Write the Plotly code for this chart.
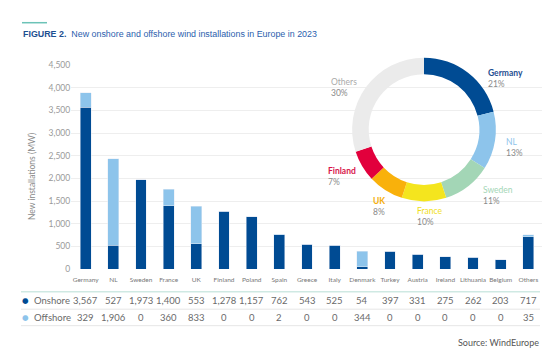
import plotly.graph_objects as go

# page body has an 8px default margin; the figure is sized so the page is 560x361
OFF = 8
W, H = 560 - 2 * OFF, 361 - 2 * OFF

categories = ["Germany", "NL", "Sweden", "France", "UK", "Finland", "Poland", "Spain",
              "Greece", "Italy", "Denmark", "Turkey", "Austria", "Ireland", "Lithuania",
              "Belgium", "Others"]
onshore = [3567, 527, 1973, 1400, 553, 1278, 1157, 762, 543, 525, 54, 397, 331, 275, 262, 203, 717]
offshore = [329, 1906, 0, 360, 833, 0, 0, 2, 0, 0, 344, 0, 0, 0, 0, 0, 35]

pie_labels = ["Germany", "NL", "Sweden", "France", "UK", "Finland", "Others"]
pie_pcts = [21, 13, 11, 10, 8, 7, 30]

y_ticks = [0, 500, 1000, 1500, 2000, 2500, 3000, 3500, 4000, 4500]

C_ON = "#004b93"
C_OFF = "#8dc4eb"
pie_colors = ["#004b93", "#8dc4eb", "#a3d6b6", "#f4e51e", "#f9b10b", "#e2003c", "#ebebeb"]
pie_text_colors = ["#1f4e91", "#8dc4eb", "#a3d6b6", "#f0de1a", "#f5ae0b", "#d8154a", "#aaaaaa"]
pie_bold = [True, False, False, False, True, True, False]

FONT = "Lato"


def px(x):
    return (x - OFF) / W


def py(y):
    return (H - (y - OFF)) / H


fig = go.Figure()
fig.add_trace(go.Bar(x=categories, y=onshore, marker_color=C_ON, name="Onshore",
                     hoverinfo="skip"))
fig.add_trace(go.Bar(x=categories, y=offshore, marker_color=C_OFF, name="Offshore",
                     hoverinfo="skip"))

fig.add_trace(go.Pie(labels=pie_labels, values=pie_pcts, sort=False, direction="clockwise",
                     rotation=0, hole=0.77, textinfo="none", hoverinfo="skip",
                     marker=dict(colors=pie_colors, line=dict(width=0)),
                     domain=dict(x=[px(350), px(498)], y=[py(202), py(54)]),
                     showlegend=False))

annotations = []
shapes = []

# title
shapes.append(dict(type="line", xref="paper", yref="paper", x0=px(22), x1=px(47),
                   y0=py(18), y1=py(18), line=dict(color="#6cc3b7", width=1.5)))
annotations.append(dict(xref="paper", yref="paper", x=px(21), y=py(30), xanchor="left",
                        yanchor="middle", showarrow=False,
                        text="<b>FIGURE 2.</b>  <span style='color:#2b60ad'>New onshore and offshore wind installations in Europe in 2023</span>",
                        font=dict(family="Liberation Sans", size=8.9, color="#1d4f91")))

# y-axis title
annotations.append(dict(xref="paper", yref="paper", x=px(32), y=py(177), textangle=-90,
                        xanchor="center", yanchor="middle",
                        showarrow=False, text="New installations (MW)",
                        font=dict(family=FONT, size=8.5, color="#8a8a8a")))

# pie labels
label_pos = {
    "Germany": (486, 75),
    "NL": (504, 146),
    "Sweden": (481, 196),
    "France": (415, 218),
    "UK": (371, 207),
    "Finland": (326, 176),
    "Others": (329, 85),
}
for lab, pct, col, b in zip(pie_labels, pie_pcts, pie_text_colors, pie_bold):
    x, y = label_pos[lab]
    name = f"<b>{lab}</b>" if b else lab
    annotations.append(dict(xref="paper", yref="paper", x=px(x), y=py(y), xanchor="left",
                            yanchor="middle", align="left", showarrow=False,
                            text=f"<span style='color:{col}'>{name}</span><br>{pct}%",
                            font=dict(family=FONT, size=8.5, color="#8a8a8a")))

# white area behind donut (hides gridlines)
shapes.append(dict(type="rect", xref="paper", yref="paper", x0=px(318), x1=px(535),
                   y0=py(214), y1=py(50), fillcolor="white", line=dict(width=0),
                   layer="between"))

# table
row_y = {"on": 304, "off": 322}
for cat, v in zip(categories, onshore):
    annotations.append(dict(xref="x", yref="paper", x=cat, y=py(row_y["on"]), showarrow=False,
                            xanchor="center", yanchor="middle",
                            text=f"{v:,}", font=dict(family=FONT, size=9.5, color="#6a6a6a")))
for cat, v in zip(categories, offshore):
    annotations.append(dict(xref="x", yref="paper", x=cat, y=py(row_y["off"]), showarrow=False,
                            xanchor="center", yanchor="middle",
                            text=f"{v:,}", font=dict(family=FONT, size=9.5, color="#6a6a6a")))

for key, name, col in [("on", "Onshore", C_ON), ("off", "Offshore", C_OFF)]:
    annotations.append(dict(xref="paper", yref="paper", x=px(25), y=py(row_y[key]),
                            xanchor="center", yanchor="middle",
                            showarrow=False, text="●",
                            font=dict(family="DejaVu Sans", size=7.5, color=col)))
    annotations.append(dict(xref="paper", yref="paper", x=px(32), y=py(row_y[key]),
                            xanchor="left", yanchor="middle", showarrow=False, text=name,
                            font=dict(family=FONT, size=9.5, color="#6a6a6a")))

shapes.append(dict(type="line", xref="paper", yref="paper", x0=px(21), x1=px(540),
                   y0=py(295), y1=py(295), line=dict(color="#cfe9e3", width=1.5)))
for yy in (313, 330):
    shapes.append(dict(type="line", xref="paper", yref="paper", x0=px(21), x1=px(540),
                       y0=py(yy), y1=py(yy), line=dict(color="#e6e6e6", width=1)))

# source
annotations.append(dict(xref="paper", yref="paper", x=px(541), y=py(347), xanchor="right",
                        yanchor="middle", showarrow=False, text="Source: WindEurope",
                        font=dict(family=FONT, size=9, color="#555555")))

fig.update_layout(
    width=W, height=H, margin=dict(l=0, r=0, t=0, b=0),
    paper_bgcolor="white", plot_bgcolor="white",
    barmode="stack", bargap=0.61, showlegend=False,
    xaxis=dict(domain=[px(71.2), px(542.2)], type="category", showgrid=False,
               showline=False, ticks="", tickfont=dict(family=FONT, size=6.5, color="#777777"),
               ticklabelstandoff=5),
    yaxis=dict(domain=[py(271.7), py(61.7)], range=[0, 4500], tickvals=y_ticks,
               tickformat=",", showgrid=True, gridcolor="#eeeeee", gridwidth=1,
               zeroline=False, showline=False, ticks="",
               tickfont=dict(family=FONT, size=8.5, color="#9a9a9a")),
    annotations=annotations, shapes=shapes,
    hovermode=False,
)

fig.write_html("out.html")
